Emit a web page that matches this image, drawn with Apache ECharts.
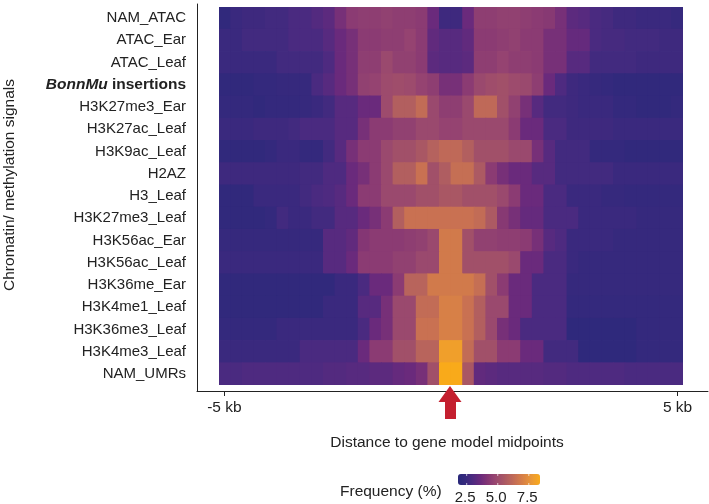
<!DOCTYPE html>
<html>
<head>
<meta charset="utf-8">
<script src="https://cdn.jsdelivr.net/npm/echarts@6/dist/echarts.min.js"></script>
<style>
html,body{margin:0;padding:0;background:#fff;}
#chart{width:709px;height:504px;}
</style>
</head>
<body>
<div id="chart"></div>
<script>
// ---- data ----
const rowNames = ['NAM_ATAC','ATAC_Ear','ATAC_Leaf','BonnMu insertions','H3K27me3_Ear','H3K27ac_Leaf','H3K9ac_Leaf','H2AZ','H3_Leaf','H3K27me3_Leaf','H3K56ac_Ear','H3K56ac_Leaf','H3K36me_Ear','H3K4me1_Leaf','H3K36me3_Leaf','H3K4me3_Leaf','NAM_UMRs'];
const xTicks = [-5, 5];
const legendTicks = [2.5, 5.0, 7.5];

const nam_atac      = [2.2,2.5,2.6,2.6,2.7,2.7,2.9,2.9,3.1,3.3,3.9,4.4,4.5,4.5,4.6,4.5,4.5,4.4,3.6,2.6,2.6,3.6,4.5,4.5,4.6,4.6,4.5,4.4,4.3,3.9,3.3,3.2,2.9,2.8,2.6,2.6,2.5,2.5,2.5,2.4];
const atac_ear      = [2.5,2.5,2.7,2.7,2.7,2.7,2.9,2.9,2.9,3.2,3.6,3.9,4.4,4.4,4.5,4.5,4.7,4.4,3.4,3.2,3.2,3.4,4.4,4.4,4.5,4.6,4.4,4.4,3.9,3.9,3.5,3.5,2.9,2.8,2.8,2.7,2.7,2.7,2.6,2.6];
const atac_leaf     = [2.5,2.5,2.5,2.5,2.5,2.7,2.7,2.7,2.7,3.0,3.6,3.9,4.5,4.5,4.9,4.6,4.6,4.4,3.3,3.2,3.2,3.3,4.5,4.5,4.7,4.5,4.5,4.4,3.9,3.9,3.2,3.2,2.7,2.7,2.7,2.7,2.6,2.6,2.6,2.6];
const bonnmu        = [2.2,2.2,2.2,2.3,2.3,2.4,2.4,2.4,2.9,3.2,3.6,3.9,4.6,4.7,5.0,5.1,5.0,4.7,4.5,3.9,3.9,4.4,4.9,5.1,5.2,5.0,4.9,4.5,3.6,3.0,2.6,2.5,2.4,2.3,2.2,2.2,2.2,2.2,2.2,2.2];
const h3k27me3_ear  = [2.3,2.3,2.3,2.2,2.3,2.3,2.3,2.4,2.5,2.7,3.2,3.2,3.6,3.6,5.0,5.8,5.8,6.3,4.9,4.5,4.5,4.9,6.2,6.2,5.2,4.6,3.9,3.2,2.7,2.7,2.6,2.5,2.5,2.5,2.3,2.3,2.2,2.2,2.2,2.3];
const h3k27ac_leaf  = [2.5,2.5,2.5,2.6,2.6,2.6,2.7,2.9,2.9,2.9,3.2,3.2,3.9,4.4,4.4,4.6,4.6,4.9,4.9,4.7,4.7,4.9,4.9,4.9,4.9,4.4,3.6,3.6,2.9,2.9,2.6,2.6,2.6,2.6,2.5,2.5,2.5,2.5,2.5,2.5];
const h3k9ac_leaf   = [2.2,2.2,2.2,2.2,2.3,2.5,2.5,2.3,2.3,2.7,3.2,3.9,4.4,4.4,4.9,5.2,5.2,5.5,5.9,6.2,6.2,5.8,5.2,5.2,5.2,4.9,4.9,3.9,3.2,2.7,2.7,2.7,2.3,2.3,2.3,2.2,2.2,2.2,2.2,2.2];
const h2az          = [2.6,2.6,2.6,2.6,2.6,2.6,2.6,2.7,2.7,3.0,3.0,3.6,3.9,4.4,4.9,5.8,5.8,6.5,5.2,5.7,6.4,6.4,5.6,4.4,3.9,3.6,3.6,3.2,3.2,2.7,2.7,2.7,2.7,2.7,2.5,2.5,2.5,2.5,2.5,2.5];
const h3_leaf       = [2.2,2.2,2.2,2.5,2.5,2.5,2.5,2.7,2.9,3.0,3.2,3.6,4.4,4.4,4.9,4.9,4.9,5.2,5.2,5.5,5.5,5.2,5.2,5.2,4.9,4.4,3.6,3.6,2.9,2.9,2.5,2.5,2.5,2.4,2.4,2.3,2.3,2.3,2.3,2.3];
const h3k27me3_leaf = [2.2,2.2,2.2,2.2,2.3,2.7,2.5,2.5,2.7,2.7,3.2,3.2,3.6,3.9,4.4,5.8,6.5,6.5,6.5,6.5,6.5,6.5,6.3,5.6,4.3,3.9,3.5,3.5,2.9,2.9,2.9,2.5,2.5,2.5,2.5,2.5,2.4,2.4,2.4,2.4];
const h3k56ac_ear   = [2.4,2.4,2.4,2.4,2.4,2.4,2.4,2.4,2.4,3.2,3.2,3.4,4.2,4.4,4.4,4.4,4.5,4.6,4.9,6.8,6.8,5.2,4.6,4.6,4.5,4.5,4.4,3.9,3.2,3.0,2.5,2.5,2.5,2.5,2.4,2.4,2.4,2.4,2.4,2.4];
const h3k56ac_leaf  = [2.5,2.5,2.5,2.5,2.5,2.5,2.5,2.5,2.5,3.2,3.2,3.6,4.4,4.4,4.4,4.6,4.6,4.9,4.9,6.8,6.8,5.2,5.2,5.2,5.2,4.9,3.6,3.6,2.9,2.9,2.5,2.4,2.4,2.4,2.4,2.4,2.4,2.4,2.4,2.4];
const h3k36me_ear   = [2.2,2.2,2.2,2.2,2.2,2.2,2.2,2.2,2.2,2.2,2.5,2.5,2.9,3.6,3.6,4.4,6.0,6.0,6.8,6.8,6.8,6.8,6.4,5.2,4.4,3.6,3.6,2.9,2.9,2.9,2.4,2.4,2.4,2.4,2.4,2.4,2.4,2.4,2.4,2.4];
const h3k4me1_leaf  = [2.2,2.2,2.2,2.2,2.2,2.2,2.2,2.2,2.2,2.5,2.5,2.5,3.2,3.2,3.9,4.9,4.9,6.3,6.3,7.0,7.0,6.5,5.8,4.9,4.9,3.6,3.6,2.9,2.9,2.9,2.3,2.3,2.3,2.3,2.3,2.3,2.3,2.3,2.3,2.3];
const h3k36me3_leaf = [2.3,2.3,2.3,2.3,2.3,2.5,2.5,2.5,2.5,2.5,2.5,2.5,2.9,3.6,3.9,4.9,4.9,6.5,6.5,7.0,7.0,6.5,5.8,4.9,3.9,3.6,2.9,2.9,2.9,2.9,2.1,2.1,2.1,2.1,2.1,2.1,2.3,2.3,2.3,2.3];
const h3k4me3_leaf  = [2.5,2.5,2.5,2.5,2.5,2.5,2.5,2.9,2.9,2.9,2.9,2.9,3.6,4.4,4.4,5.2,5.2,6.0,6.0,8.0,8.0,6.3,5.2,5.2,4.4,4.4,3.6,3.6,2.7,2.7,2.7,2.1,2.1,2.1,2.1,2.1,2.3,2.3,2.3,2.3];
const nam_umrs      = [2.9,2.9,3.0,3.0,3.0,3.0,3.0,3.0,3.0,3.1,3.1,3.2,3.2,3.3,3.3,3.5,3.6,3.9,5.2,8.4,8.4,5.5,3.4,3.3,3.2,3.2,3.2,3.2,3.1,3.1,3.0,3.0,3.0,3.0,3.0,2.9,2.9,2.9,2.9,2.9];

const rows = [nam_atac, atac_ear, atac_leaf, bonnmu, h3k27me3_ear, h3k27ac_leaf, h3k9ac_leaf, h2az, h3_leaf, h3k27me3_leaf, h3k56ac_ear, h3k56ac_leaf, h3k36me_ear, h3k4me1_leaf, h3k36me3_leaf, h3k4me3_leaf, nam_umrs];
const bins = nam_atac.map((_, i) => 'b' + i);

// ---- build ----
const heat = [];
rows.forEach((r, yi) => r.forEach((v, xi) => heat.push([xi, yi, v])));

const FONT = 'Liberation Sans';
const TXT = '#222';
const vmMin = 1.8, vmMax = 8.4;
const cbLeft = 458, cbTop = 474, cbLen = 82, cbThick = 11;

const graphics = [];
legendTicks.forEach(t => {
  const x = cbLeft + (t - vmMin) / (vmMax - vmMin) * cbLen;
  graphics.push({type:'text', left: x - 12, top: 490, style:{text: t.toFixed(1), fill: TXT, font: '15px "' + FONT + '"', width: 24, align:'center'}});
  graphics.push({type:'line', shape:{x1:x, y1:cbTop, x2:x, y2:cbTop+2}, style:{stroke:'#fff', lineWidth:1, opacity:0.7}, z:100});
  graphics.push({type:'line', shape:{x1:x, y1:cbTop+cbThick-2, x2:x, y2:cbTop+cbThick}, style:{stroke:'#fff', lineWidth:1, opacity:0.7}, z:100});
});
graphics.push({type:'text', left: 340, top: 484, style:{text:'Frequency (%)', fill: TXT, font:'15.5px "' + FONT + '"'}});
graphics.push({type:'text', x: 447, y: 443, style:{text:'Distance to gene model midpoints', fill: TXT, font:'15.5px "' + FONT + '"', align:'center', verticalAlign:'middle'}});
graphics.push({type:'text', x: 10, y: 185, rotation: Math.PI / 2, style:{text:'Chromatin/ methylation signals', fill: TXT, font:'15.5px "' + FONT + '"', align:'center', verticalAlign:'middle'}});
graphics.push({type:'polygon', shape:{points:[[450,386],[461.5,402],[456,402],[456,419],[445,419],[445,402],[438.5,402]]}, style:{fill:'#c41f2f'}, z:50});

function renderCell(params, api) {
  const c = api.coord([api.value(0), api.value(1)]);
  const s = api.size([1, 1]);
  return {
    type: 'rect',
    shape: {x: c[0] - s[0] / 2 - 0.4, y: c[1] - s[1] / 2 - 0.4, width: s[0] + 0.8, height: s[1] + 0.8},
    style: {fill: api.visual('color')}
  };
}

const chart = echarts.init(document.getElementById('chart'), null, {renderer:'canvas'});
chart.setOption({
  animation: false,
  backgroundColor: '#fff',
  textStyle: {fontFamily: FONT},
  grid: [
    {left: 219, top: 7, width: 464, height: 378},
    {left: 197, top: 4, right: 1, bottom: 113}
  ],
  xAxis: [
    {type:'category', gridIndex:0, data: bins, show:false},
    {type:'value', gridIndex:0, min:-5.12, max:5.12, position:'bottom', offset:6,
     axisLine:{show:false}, splitLine:{show:false},
     axisTick:{show:true, length:5, customValues: xTicks, lineStyle:{color:'#222'}},
     axisLabel:{show:true, customValues: xTicks, margin:9, color: TXT, fontSize:15.5, fontFamily: FONT,
       alignMinLabel:'center', alignMaxLabel:'center', formatter: v => v + ' kb'}},
    {type:'value', gridIndex:1, min:0, max:1, axisLine:{show:true, onZero:false, lineStyle:{color:'#222', width:1}},
     axisTick:{show:false}, axisLabel:{show:false}, splitLine:{show:false}}
  ],
  yAxis: [
    {type:'category', gridIndex:0, data: rowNames, inverse:true, offset:22,
     axisLine:{show:false}, splitLine:{show:false},
     axisTick:{show:true, alignWithLabel:true, length:5, lineStyle:{color:'#222'}},
     axisLabel:{margin:11, color: TXT, fontSize:15, fontFamily: FONT,
       formatter: v => v === 'BonnMu insertions' ? '{bi|BonnMu} {b|insertions}' : v,
       rich:{bi:{fontStyle:'italic', fontWeight:'bold', fontSize:15.5, fontFamily:FONT, color:TXT},
             b:{fontWeight:'bold', fontSize:15.5, fontFamily:FONT, color:TXT}}}},
    {type:'value', gridIndex:1, min:0, max:1, axisLine:{show:true, onZero:false, lineStyle:{color:'#222', width:1}},
     axisTick:{show:false}, axisLabel:{show:false}, splitLine:{show:false}}
  ],
  visualMap: {
    type:'continuous', min: vmMin, max: vmMax, orient:'horizontal', calculable:false,
    left: cbLeft, top: cbTop, itemWidth: cbThick, itemHeight: cbLen, padding:0,
    showLabel:false, text:null, seriesIndex:0, dimension:2, hoverLink:false,
    inRange:{color:['#28287a','#36297d','#4e2a80','#6a2a7c','#843674','#984670','#a65566','#b8645c','#cc7450','#dc8642','#ec9a34','#f9aa1a']}
  },
  graphic: graphics,
  series: [{
    type:'custom', xAxisIndex:0, yAxisIndex:0, data: heat,
    encode:{x:0, y:1}, renderItem: renderCell, clip:true
  }]
});
</script>
</body>
</html>
